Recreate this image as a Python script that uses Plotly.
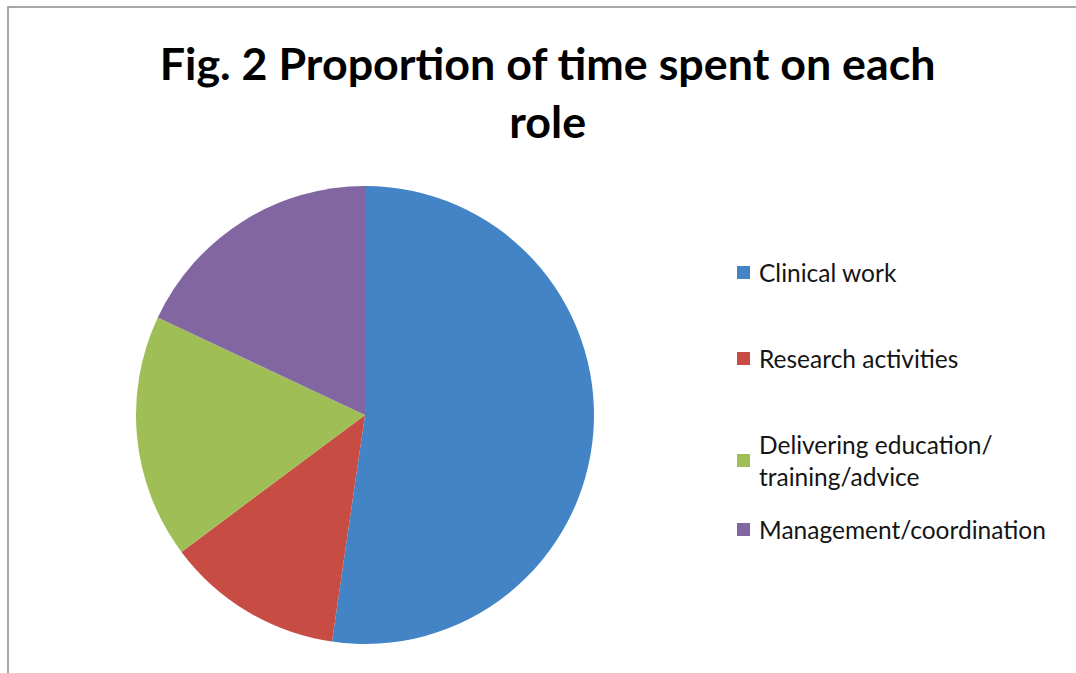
import plotly.graph_objects as go

# ---- data ----
labels = ["Clinical work", "Research activities", "Delivering education/<br>training/advice", "Management/coordination"]
values = [52.3, 12.5, 17.2, 18.0]
colors = ["#4284C6", "#C64C44", "#A0BE56", "#8266A2"]
title_text = "Fig. 2 Proportion of time spent on each<br>role"

W, H = 1076, 673

fig = go.Figure()
fig.add_trace(go.Pie(
    labels=labels, values=values, sort=False, direction="clockwise", rotation=0,
    marker=dict(colors=colors, line=dict(width=0)),
    textinfo="none", hoverinfo="label+percent",
    domain=dict(x=[136 / W, 594 / W], y=[1 - 644 / H, 1 - 186 / H]),
    showlegend=False,
))

# legend drawn as annotations + squares (layout)
legend_y = [272, 358, 460, 529]
shapes = [dict(type="rect", xref="paper", yref="paper", x0=8 / W, x1=1.02, y0=-0.02, y1=1 - 7 / H,
               line=dict(color="#8c8c8c", width=1.5), fillcolor="rgba(0,0,0,0)", layer="below")]
annotations = []
for lab, col, yy in zip(labels, colors, legend_y):
    shapes.append(dict(type="rect", xref="paper", yref="paper",
                       x0=737 / W, x1=750 / W, y0=1 - (yy + 7) / H, y1=1 - (yy - 6) / H,
                       fillcolor=col, line=dict(width=0)))
    annotations.append(dict(text=lab, x=757 / W, y=1 - yy / H, xref="paper", yref="paper",
                            xanchor="left", yanchor="middle", showarrow=False, align="left",
                            font=dict(family="Lato", size=24.5, color="#151515")))

fig.update_layout(
    width=W, height=H,
    margin=dict(l=0, r=0, t=0, b=0),
    paper_bgcolor="white", plot_bgcolor="white",
    title=dict(text=title_text, x=0.509, xanchor="center", y=1 - 80 / H, yanchor="middle",
               font=dict(family="Lato", size=44.8, color="black", weight="bold")),
    shapes=shapes, annotations=annotations,
)
fig.write_html("out.html", config={"displayModeBar": False},
               post_script="document.body.style.margin='0';document.body.style.overflow='hidden';")
